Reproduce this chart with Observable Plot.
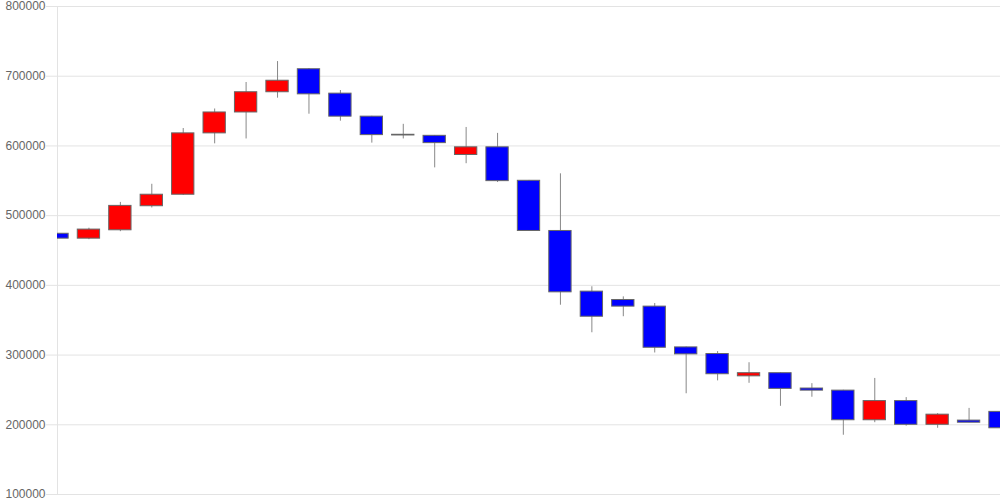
<!DOCTYPE html>
<html>
<head>
<meta charset="utf-8">
<script src="https://cdn.jsdelivr.net/npm/d3@7"></script>
<script src="https://cdn.jsdelivr.net/npm/@observablehq/plot@0.6"></script>
<style>
  html, body { margin: 0; padding: 0; background: #fff; }
  #chart svg { display: block; }
</style>
</head>
<body>
<div id="chart"></div>
<script>
const opens  = [474000,467000,479000,513500,530000,618000,648000,677000,710000,675000,642000,616000,614500,587000,598000,550000,478000,391000,379000,369500,311000,301500,269500,274000,252000,249000,206500,234000,200000,206000,218500];
const closes = [467000,480000,514000,530000,618000,648000,677000,693500,674000,642000,615500,615000,604000,598000,549500,478000,390000,355000,369500,310500,301000,272500,274000,251500,249000,206500,234000,200000,214500,203000,195000];
const highs  = [474000,482000,519000,545000,625000,653000,691000,721000,711000,679500,642500,631000,615000,626500,618000,550500,560000,398000,383500,374000,311500,305000,289000,274500,259000,249500,266500,239000,216000,223500,219000];
const lows   = [467000,465500,477000,511000,529000,603000,610000,668500,645500,635500,604000,610000,568500,574500,547500,478000,371500,332000,355000,303000,244500,263000,259500,226500,239500,185000,203000,198000,195000,203000,190000];
const yTicks = [100000,200000,300000,400000,500000,600000,700000,800000];

const data = opens.map((o, i) => ({i, open: o, close: closes[i], high: highs[i], low: lows[i]}));
const hw = 0.355;

const chart = Plot.plot({
  width: 1000,
  height: 500,
  marginLeft: 57,
  marginRight: 0,
  marginTop: 6,
  marginBottom: 6,
  style: {fontFamily: "'Liberation Sans', Arial, sans-serif", fontSize: "12px", background: "#fff"},
  x: {type: "linear", domain: [0, opens.length - 1], axis: null},
  y: {domain: [100000, 800000]},
  marks: [
    Plot.gridY(yTicks, {stroke: "#e3e3e3", strokeOpacity: 1}),
    Plot.axisY(yTicks, {tickFormat: d => String(d), tickSize: 11, tickPadding: 1, stroke: "#e3e3e3", fill: "#666", fontSize: 12}),
    Plot.ruleX([0], {stroke: "#e3e3e3"}),
    Plot.ruleX(data, {x: "i", y1: "low", y2: "high", stroke: "#888", strokeWidth: 1, clip: true}),
    Plot.rect(data, {
      x1: d => d.i - hw, x2: d => d.i + hw,
      y1: d => Math.min(d.open, d.close), y2: d => Math.max(d.open, d.close),
      fill: d => d.close >= d.open ? "#ff0000" : "#0000ff",
      stroke: "#666", strokeWidth: 1, clip: true
    })
  ]
});
document.getElementById("chart").appendChild(chart);
</script>
</body>
</html>
